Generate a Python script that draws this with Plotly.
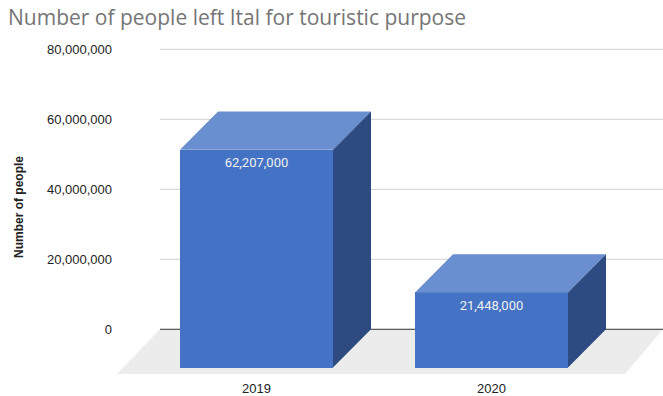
import plotly.graph_objects as go

# ---- data ----
categories = ["2019", "2020"]
values = [62207000, 21448000]
value_labels = ["62,207,000", "21,448,000"]
y_ticks = [0, 20000000, 40000000, 60000000, 80000000]
title_text = "Number of people left Ital for touristic purpose"
y_title = "Number of people"

# ---- style / geometry constants ----
W, H = 663, 396
PX_PER_X = 235.0            # pixels per category step
PX_PER_Y = 3.52 / 1e6       # pixels per person
X0_PX = 256.5               # pixel of first category front centre
Y0_PX = 331.0               # pixel of value 0 on back wall
ML, MR, MT, MB = 113, 0, 40, 20

def px_to_x(p):
    return (p - X0_PX) / PX_PER_X

def py_to_y(p):
    return (Y0_PX - p) / PX_PER_Y

x_range = [px_to_x(ML), px_to_x(W - MR)]
y_range = [py_to_y(H - MB), py_to_y(MT)]

bar_w = 153 / PX_PER_X
depth_x = 38 / PX_PER_X
depth_y = 38.5 / PX_PER_Y
floor_dx_left = 43 / PX_PER_X
floor_dx_right = 38 / PX_PER_X
floor_dy = 45 / PX_PER_Y
wall_left = px_to_x(160)

front_col = "#4472c4"
top_col = "#6a8fd0"
side_col = "#2d4b81"

xs = list(range(len(categories)))

fig = go.Figure()

# front faces
fig.add_trace(go.Bar(
    x=xs, y=values, base=[-depth_y] * len(values), width=bar_w,
    marker=dict(color=front_col, line=dict(width=0)),
    hoverinfo="skip", showlegend=False,
))

# top faces
tx, ty = [], []
for x, v in zip(xs, values):
    l, r = x - bar_w / 2, x + bar_w / 2
    tx += [l, r, r + depth_x, l + depth_x, l, None]
    ty += [v - depth_y, v - depth_y, v, v, v - depth_y, None]
fig.add_trace(go.Scatter(x=tx, y=ty, fill="toself", fillcolor=top_col,
                         mode="lines", line=dict(width=0, color=top_col),
                         hoverinfo="skip", showlegend=False))

# side faces
sx, sy = [], []
for x, v in zip(xs, values):
    r = x + bar_w / 2
    sx += [r, r + depth_x, r + depth_x, r, r, None]
    sy += [-depth_y, 0, v, v - depth_y, -depth_y, None]
fig.add_trace(go.Scatter(x=sx, y=sy, fill="toself", fillcolor=side_col,
                         mode="lines", line=dict(width=0, color=side_col),
                         hoverinfo="skip", showlegend=False))

# value labels
fig.add_trace(go.Scatter(
    x=xs, y=[v - depth_y - 14 / PX_PER_Y for v in values],
    mode="text", text=value_labels, textposition="middle center",
    textfont=dict(family="Roboto, Arial, sans-serif", size=13, color="#f0f0f0"),
    hoverinfo="skip", showlegend=False,
))

shapes = []
# floor
fx_r = x_range[1]
shapes.append(dict(
    type="path", xref="x", yref="y", layer="below",
    path=f"M {wall_left},0 L {fx_r},0 L {fx_r - floor_dx_right},{-floor_dy} "
         f"L {wall_left - floor_dx_left},{-floor_dy} Z",
    fillcolor="#ececec", line=dict(width=0),
))
# gridlines on back wall
for t in y_ticks:
    shapes.append(dict(
        type="line", xref="x", yref="y", layer="below",
        x0=wall_left, x1=fx_r, y0=t, y1=t,
        line=dict(color="#333333" if t == 0 else "#d0d0d0", width=1),
    ))

tick_font = dict(family="Arial, Liberation Sans, sans-serif", size=13, color="#222222")

fig.update_layout(
    width=W, height=H,
    margin=dict(l=ML, r=MR, t=MT, b=MB),
    paper_bgcolor="white", plot_bgcolor="white",
    shapes=shapes,
    title=dict(text=title_text, x=8 / W, xref="container", xanchor="left",
               y=1 - 18 / H, yref="container", yanchor="middle",
               font=dict(family="Open Sans, sans-serif", size=21, color="#757575")),
    xaxis=dict(range=x_range, tickmode="array", tickvals=xs, ticktext=categories,
               showgrid=False, zeroline=False, showline=False, ticks="",
               ticklabelstandoff=5,
               tickfont=tick_font, fixedrange=True),
    yaxis=dict(range=y_range, tickmode="array", tickvals=y_ticks,
               tickformat=",d", showgrid=False, zeroline=False, showline=False,
               ticks="", tickfont=tick_font,
               title=dict(text=y_title, standoff=20,
                          font=dict(family="Arial, Liberation Sans, sans-serif", size=12,
                                    color="#222222", weight="bold")),
               fixedrange=True),
    bargap=0,
)

fig.write_html("out.html")
